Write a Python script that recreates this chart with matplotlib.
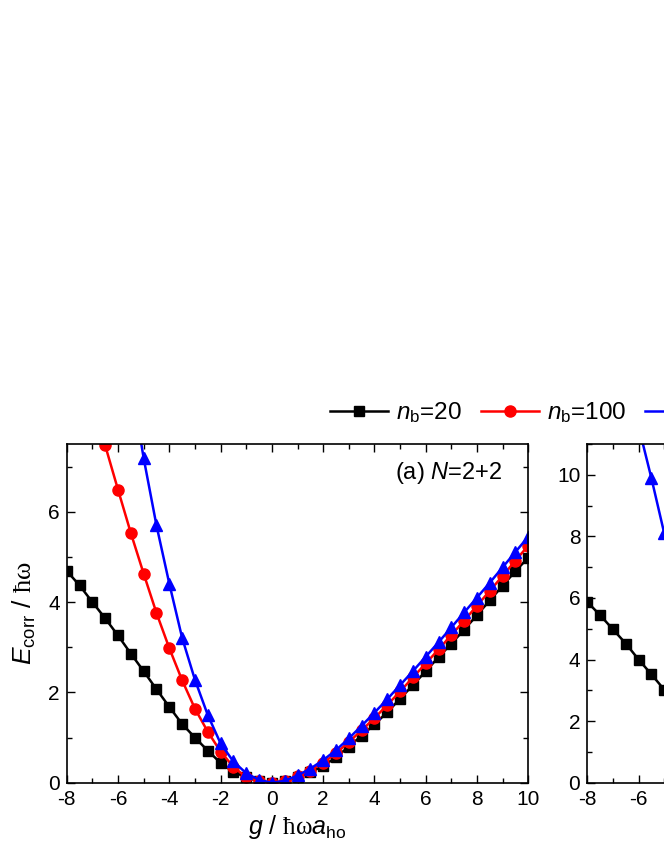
import matplotlib
matplotlib.use("Agg")
import matplotlib.pyplot as plt
import numpy as np
from matplotlib.ticker import MultipleLocator

plt.rcParams["font.family"] = ["Liberation Sans", "DejaVu Sans"]
plt.rcParams["mathtext.fontset"] = "custom"
plt.rcParams["mathtext.rm"] = "Liberation Sans"
plt.rcParams["mathtext.it"] = "Liberation Sans:italic"
plt.rcParams["mathtext.cal"] = "Liberation Serif"
plt.rcParams["axes.unicode_minus"] = False

# panel (a): N=2+2
g_a_black = np.arange(-8, 10.01, 0.5)
e_a_black = [4.69, 4.37, 4.00, 3.64, 3.26, 2.86, 2.47, 2.07, 1.68, 1.30, 1.00, 0.71,
             0.44, 0.24, 0.12, 0.03, 0.00,
             0.03, 0.12, 0.23, 0.37, 0.56, 0.80, 1.04, 1.29, 1.56, 1.86, 2.16, 2.47,
             2.78, 3.08, 3.39, 3.71, 4.04, 4.36, 4.69, 4.98]
g_a_red = np.arange(-7, 10.01, 0.5)
e_a_red = [8.45, 7.47, 6.49, 5.53, 4.63, 3.76, 2.98, 2.27, 1.64, 1.13, 0.69, 0.35,
           0.12, 0.03, 0.00,
           0.03, 0.14, 0.27, 0.44, 0.65, 0.90, 1.16, 1.43, 1.72, 2.02, 2.33, 2.64,
           2.95, 3.27, 3.59, 3.92, 4.25, 4.58, 4.92, 5.25]
g_a_blue = np.arange(-5.5, 10.01, 0.5)
e_a_blue = [8.90, 7.19, 5.70, 4.41, 3.21, 2.28, 1.50, 0.87, 0.47, 0.21, 0.06, 0.00,
            0.04, 0.16, 0.31, 0.50, 0.72, 0.98, 1.26, 1.55, 1.85, 2.16, 2.47, 2.79,
            3.11, 3.44, 3.77, 4.10, 4.43, 4.77, 5.11, 5.45]

# panel (b), only the left part is visible
g_b_black = [-8, -7.5, -7, -6.5, -6, -5.5, -5, -4.5]
e_b_black = [5.87, 5.44, 4.98, 4.52, 4.00, 3.52, 3.02, 2.55]
g_b_blue = [-6, -5.5, -5, -4.5]
e_b_blue = [11.57, 9.89, 8.10, 6.50]

labels = ["$n_\\mathrm{b}$=20", "$n_\\mathrm{b}$=100", "$n_\\mathrm{b}$=500"]
colors = ["black", "red", "blue"]
markers = ["s", "o", "^"]
msizes = [6.5, 8, 8]

W, H = 664, 860
fig = plt.figure(figsize=(W / 100, H / 100), dpi=100)
ax1 = fig.add_axes([66.7 / W, (H - 782.7) / H, 461.6 / W, 338.7 / H])
ax2 = fig.add_axes([587.3 / W, (H - 782.7) / H, 461.6 / W, 338.7 / H])

series_a = [(g_a_black, e_a_black), (g_a_red, e_a_red), (g_a_blue, e_a_blue)]
handles = []
for (gx, ey), c, m, ms, lab in zip(series_a, colors, markers, msizes, labels):
    h, = ax1.plot(gx, ey, color=c, marker=m, markersize=ms, lw=1.8, label=lab)
    handles.append(h)

ax2.plot(g_b_black, e_b_black, color="black", marker="s", markersize=6.5, lw=1.8)
ax2.plot(g_b_blue, e_b_blue, color="blue", marker="^", markersize=8, lw=1.8)

for ax, ymax in [(ax1, 7.5), (ax2, 11)]:
    ax.set_xlim(-8, 10)
    ax.set_ylim(0, ymax)
    ax.xaxis.set_major_locator(MultipleLocator(2))
    ax.xaxis.set_minor_locator(MultipleLocator(1))
    ax.yaxis.set_major_locator(MultipleLocator(2))
    ax.yaxis.set_minor_locator(MultipleLocator(1))
    ax.tick_params(which="both", direction="in", top=True, right=True,
                   width=1.0, labelsize=15)
    ax.tick_params(which="major", length=5.5, pad=5)
    ax.tick_params(which="minor", length=3.5)
    for s in ax.spines.values():
        s.set_linewidth(1.2)

ax1.set_xlabel("$g$ / $\\mathcal{ħω}a_\\mathrm{ho}$", fontsize=18, labelpad=3)
ax1.set_ylabel("$E_\\mathrm{corr}$ / $\\mathcal{ħω}$", fontsize=19, labelpad=7)
ax1.text(0.943, 0.914, "(a) $N$=2+2", transform=ax1.transAxes,
         ha="right", va="center", fontsize=17)

fig.legend(handles=handles, loc="center left", bbox_to_anchor=(330 / W, 1 - 413 / H),
           ncol=3, frameon=False, fontsize=17.5, borderpad=0, borderaxespad=0,
           handlelength=2.4, handletextpad=0.3, columnspacing=0.8)

fig.savefig("out.png", dpi=100)
